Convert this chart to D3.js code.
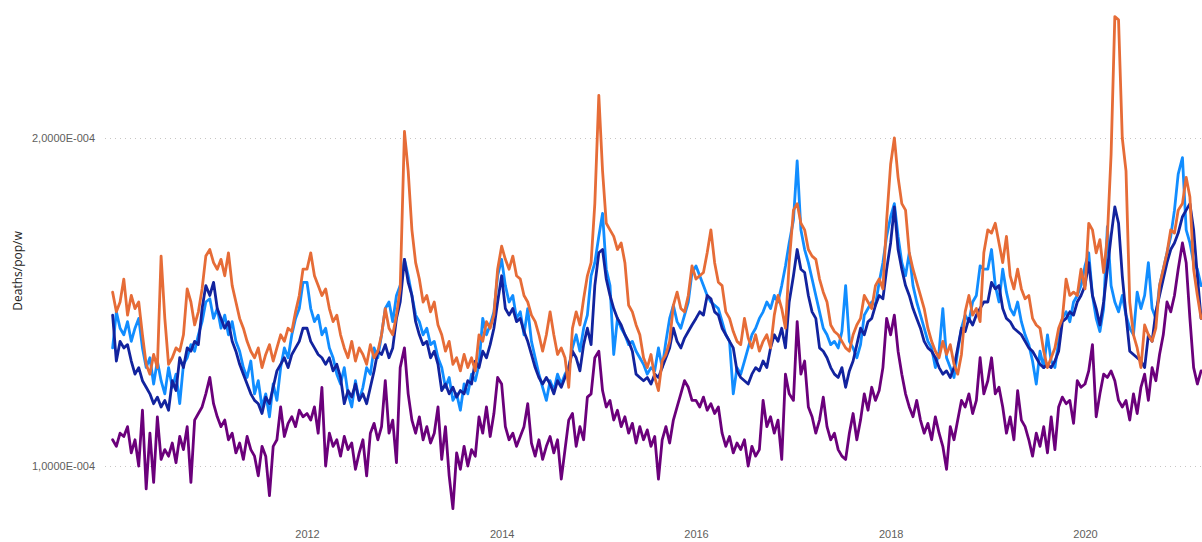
<!DOCTYPE html>
<html>
<head>
<meta charset="utf-8">
<script src="https://cdn.jsdelivr.net/npm/d3@7"></script>
<style>
    body { margin: 0; background: #fff; }
    svg { display: block; font-family: "Segoe UI", "Open Sans", sans-serif; }
</style>
</head>
<body>
<svg width="1202" height="542"></svg>
<script>
// weekly deaths per population, sampled every two weeks, in units of 1E-4
// 26 values per year 2010..2020, then 6 values for early 2021
let years = [2010, 2011, 2012, 2013, 2014, 2015, 2016, 2017, 2018, 2019, 2020, 2021];

let seriesLightBlue = [
    1.36,1.47,1.42,1.40,1.44,1.38,1.42,1.45,1.36,1.30,1.33,1.25,1.32,1.26,1.22,1.30,1.24,1.28,1.19,1.31,1.33,1.37,1.35,1.40,1.44,1.50,
    1.51,1.45,1.48,1.42,1.46,1.40,1.44,1.38,1.35,1.30,1.27,1.32,1.22,1.26,1.18,1.22,1.15,1.25,1.20,1.30,1.36,1.33,1.40,1.45,1.48,1.56,
    1.56,1.48,1.44,1.46,1.40,1.42,1.36,1.33,1.28,1.25,1.30,1.22,1.18,1.26,1.20,1.24,1.30,1.28,1.36,1.33,1.40,1.48,1.50,1.44,1.52,1.55,
    1.63,1.58,1.52,1.46,1.44,1.40,1.42,1.37,1.38,1.33,1.30,1.24,1.27,1.20,1.22,1.17,1.25,1.22,1.28,1.26,1.31,1.45,1.40,1.43,1.47,1.58,
    1.63,1.55,1.50,1.52,1.45,1.47,1.40,1.48,1.38,1.33,1.28,1.24,1.20,1.26,1.23,1.28,1.25,1.28,1.30,1.36,1.40,1.35,1.42,1.46,1.58,1.62,
    1.70,1.77,1.60,1.55,1.34,1.45,1.42,1.40,1.37,1.38,1.35,1.33,1.31,1.28,1.30,1.29,1.36,1.30,1.38,1.45,1.49,1.44,1.42,1.46,1.50,1.59,
    1.61,1.58,1.55,1.52,1.50,1.49,1.48,1.44,1.40,1.38,1.22,1.30,1.28,1.32,1.36,1.40,1.42,1.45,1.47,1.50,1.48,1.52,1.50,1.55,1.61,1.68,
    1.75,1.93,1.72,1.66,1.62,1.57,1.52,1.47,1.42,1.40,1.37,1.38,1.36,1.41,1.55,1.38,1.36,1.33,1.37,1.46,1.48,1.50,1.49,1.56,1.62,1.70,
    1.76,1.80,1.70,1.62,1.58,1.65,1.55,1.50,1.46,1.42,1.38,1.36,1.30,1.35,1.48,1.33,1.30,1.27,1.35,1.42,1.46,1.44,1.50,1.52,1.61,1.60,
    1.60,1.66,1.55,1.50,1.60,1.53,1.48,1.46,1.50,1.44,1.40,1.37,1.32,1.25,1.35,1.30,1.40,1.32,1.30,1.38,1.45,1.47,1.44,1.50,1.52,1.55,
    1.61,1.65,1.52,1.45,1.41,1.48,1.73,1.55,1.50,1.47,1.52,1.46,1.42,1.40,1.53,1.48,1.52,1.62,1.48,1.45,1.55,1.60,1.65,1.70,1.78,1.89,
    1.94,1.72,1.68,1.62,1.60,1.55
];

let seriesDarkBlue = [
    1.46,1.32,1.38,1.36,1.37,1.32,1.28,1.30,1.26,1.24,1.22,1.19,1.21,1.18,1.20,1.17,1.26,1.23,1.33,1.30,1.36,1.35,1.38,1.37,1.48,1.55,
    1.52,1.56,1.48,1.45,1.42,1.44,1.38,1.35,1.31,1.28,1.25,1.22,1.20,1.19,1.16,1.21,1.19,1.24,1.29,1.31,1.33,1.30,1.34,1.36,1.38,1.42,
    1.42,1.38,1.36,1.34,1.33,1.31,1.33,1.29,1.31,1.27,1.19,1.23,1.21,1.25,1.20,1.22,1.19,1.24,1.29,1.35,1.34,1.37,1.33,1.36,1.45,1.50,
    1.63,1.56,1.52,1.44,1.40,1.37,1.38,1.33,1.35,1.31,1.23,1.25,1.22,1.24,1.21,1.23,1.22,1.26,1.25,1.32,1.30,1.35,1.33,1.37,1.42,1.50,
    1.58,1.48,1.46,1.48,1.44,1.45,1.41,1.38,1.34,1.30,1.27,1.25,1.27,1.25,1.22,1.26,1.24,1.27,1.30,1.35,1.33,1.29,1.37,1.42,1.37,1.55,
    1.65,1.66,1.57,1.52,1.48,1.45,1.43,1.40,1.38,1.35,1.28,1.27,1.26,1.27,1.25,1.28,1.27,1.30,1.33,1.36,1.42,1.38,1.36,1.39,1.41,1.43,
    1.45,1.47,1.46,1.52,1.51,1.47,1.46,1.42,1.40,1.38,1.36,1.29,1.27,1.26,1.25,1.28,1.30,1.29,1.32,1.30,1.36,1.40,1.38,1.42,1.36,1.50,
    1.58,1.66,1.60,1.59,1.52,1.47,1.45,1.36,1.35,1.33,1.30,1.28,1.27,1.30,1.24,1.29,1.32,1.37,1.42,1.40,1.44,1.45,1.49,1.52,1.51,1.60,
    1.68,1.79,1.66,1.60,1.55,1.52,1.48,1.45,1.42,1.38,1.36,1.35,1.33,1.30,1.28,1.29,1.27,1.30,1.36,1.42,1.41,1.45,1.43,1.46,1.48,1.50,
    1.50,1.56,1.54,1.55,1.48,1.45,1.44,1.42,1.41,1.40,1.38,1.36,1.35,1.33,1.31,1.30,1.31,1.30,1.32,1.35,1.44,1.45,1.47,1.46,1.50,1.52,
    1.55,1.62,1.52,1.48,1.43,1.50,1.60,1.70,1.79,1.74,1.58,1.46,1.35,1.34,1.33,1.32,1.30,1.40,1.38,1.47,1.52,1.57,1.62,1.66,1.68,1.71,
    1.76,1.78,1.80,1.72,1.58,1.45
];

let seriesOrange = [
    1.53,1.47,1.50,1.57,1.46,1.52,1.48,1.50,1.40,1.31,1.28,1.34,1.30,1.64,1.45,1.31,1.33,1.36,1.35,1.40,1.54,1.50,1.43,1.47,1.54,1.64,
    1.66,1.62,1.60,1.63,1.58,1.65,1.55,1.50,1.45,1.42,1.38,1.35,1.33,1.36,1.30,1.34,1.37,1.32,1.36,1.40,1.38,1.42,1.41,1.47,1.52,1.60,
    1.60,1.65,1.58,1.55,1.52,1.54,1.48,1.44,1.46,1.40,1.36,1.33,1.38,1.32,1.36,1.34,1.31,1.37,1.33,1.35,1.40,1.48,1.42,1.40,1.46,1.54,
    2.02,1.90,1.72,1.62,1.57,1.50,1.52,1.47,1.50,1.43,1.40,1.35,1.38,1.31,1.33,1.29,1.34,1.30,1.33,1.29,1.40,1.38,1.44,1.42,1.46,1.60,
    1.67,1.63,1.60,1.64,1.58,1.57,1.52,1.50,1.46,1.44,1.40,1.35,1.40,1.47,1.40,1.34,1.36,1.33,1.24,1.42,1.47,1.43,1.51,1.58,1.62,1.80,
    2.13,1.90,1.74,1.72,1.70,1.66,1.68,1.62,1.49,1.47,1.43,1.40,1.33,1.30,1.34,1.27,1.23,1.32,1.34,1.38,1.49,1.53,1.48,1.47,1.52,1.61,
    1.57,1.58,1.59,1.65,1.72,1.62,1.56,1.55,1.47,1.45,1.41,1.38,1.37,1.45,1.39,1.36,1.40,1.35,1.38,1.40,1.36,1.46,1.52,1.48,1.42,1.62,
    1.78,1.80,1.74,1.72,1.66,1.64,1.63,1.57,1.53,1.50,1.43,1.41,1.40,1.38,1.36,1.35,1.40,1.43,1.45,1.52,1.50,1.48,1.55,1.57,1.54,1.75,
    1.92,2.00,1.88,1.80,1.78,1.65,1.60,1.56,1.52,1.48,1.42,1.38,1.35,1.33,1.38,1.34,1.37,1.31,1.28,1.34,1.47,1.52,1.46,1.48,1.44,1.65,
    1.72,1.71,1.74,1.68,1.62,1.70,1.58,1.54,1.60,1.54,1.51,1.52,1.45,1.43,1.42,1.35,1.30,1.33,1.36,1.42,1.45,1.57,1.52,1.53,1.52,1.60,
    1.54,1.74,1.72,1.65,1.69,1.59,1.70,1.95,2.37,2.36,2.00,1.90,1.50,1.40,1.36,1.30,1.43,1.40,1.38,1.42,1.55,1.60,1.65,1.72,1.71,1.78,
    1.80,1.88,1.82,1.60,1.52,1.45
];

let seriesPurple = [
    1.08,1.06,1.10,1.09,1.12,1.04,1.08,1.00,1.17,0.93,1.10,0.95,1.15,1.02,1.05,1.03,1.07,1.01,1.09,1.05,1.12,0.95,1.14,1.16,1.18,1.22,
    1.27,1.19,1.15,1.12,1.14,1.08,1.10,1.04,1.07,1.02,1.09,1.05,1.03,0.97,1.06,1.03,0.91,1.06,1.08,1.18,1.09,1.13,1.15,1.12,1.17,1.15,
    1.16,1.14,1.18,1.10,1.24,1.00,1.10,1.06,1.08,1.03,1.09,1.05,1.07,0.99,1.04,1.08,0.97,1.10,1.13,1.08,1.12,1.26,1.10,1.14,1.01,1.30,
    1.36,1.22,1.14,1.10,1.15,1.08,1.12,1.07,1.10,1.18,1.02,1.12,0.97,0.87,1.04,0.99,1.06,1.00,1.05,1.03,1.15,1.10,1.18,1.09,1.16,1.27,
    1.25,1.12,1.08,1.10,1.06,1.09,1.12,1.19,1.07,1.03,1.08,1.02,1.06,1.09,1.04,1.08,0.96,1.05,1.14,1.16,1.06,1.12,1.08,1.21,1.22,1.33,
    1.35,1.23,1.18,1.20,1.14,1.17,1.12,1.15,1.10,1.13,1.07,1.12,1.08,1.11,1.06,1.09,0.96,1.08,1.12,1.07,1.14,1.18,1.22,1.26,1.24,1.20,
    1.20,1.18,1.21,1.17,1.19,1.16,1.18,1.10,1.06,1.09,1.04,1.07,1.05,1.08,1.00,1.06,1.03,1.05,1.20,1.12,1.15,1.10,1.14,1.02,1.28,1.22,
    1.20,1.44,1.28,1.32,1.18,1.15,1.10,1.14,1.21,1.12,1.08,1.10,1.05,1.03,1.02,1.10,1.16,1.08,1.14,1.22,1.17,1.24,1.20,1.23,1.30,1.45,
    1.40,1.46,1.35,1.28,1.22,1.18,1.15,1.20,1.14,1.10,1.13,1.08,1.15,1.10,1.06,0.99,1.12,1.08,1.14,1.20,1.18,1.22,1.16,1.20,1.33,1.22,
    1.26,1.33,1.22,1.24,1.18,1.10,1.15,1.08,1.23,1.14,1.12,1.08,1.03,1.10,1.06,1.12,1.04,1.15,1.05,1.18,1.21,1.19,1.20,1.13,1.26,1.24,
    1.25,1.29,1.37,1.15,1.22,1.28,1.27,1.29,1.26,1.20,1.18,1.20,1.14,1.22,1.16,1.24,1.28,1.20,1.30,1.26,1.34,1.40,1.50,1.47,1.52,1.60,
    1.68,1.62,1.45,1.30,1.25,1.29
];

let yTickValues = [1, 2];
let xTickYears = [2012, 2014, 2016, 2018, 2020];

(function () {
    'use strict';

    let svg = d3.select("svg");
    let width = +svg.attr("width"),
        height = +svg.attr("height");

    // sample k -> date: two-week steps inside each calendar year
    let dateOf = function (k) {
        let yr = years[Math.floor(k / 26)];
        return new Date(yr, 0, 1 + 14 * (k % 26));
    };

    let x = d3.scaleTime()
        .domain([new Date(2012, 0, 1), new Date(2020, 0, 1)])
        .range([307, 1085]);

    let y = d3.scaleLinear()
        .domain([1, 2])
        .range([466, 138]);

    let series = [
        {id: "lightblue", color: "#118DFF", values: seriesLightBlue},
        {id: "darkblue", color: "#12239E", values: seriesDarkBlue},
        {id: "orange", color: "#E66C37", values: seriesOrange},
        {id: "purple", color: "#6B007B", values: seriesPurple}
    ];

    let fmt = function (v) {
        return d3.format(".4f")(v).replace(".", ",") + "E-004";
    };

    // y gridlines + labels
    let yAxis = svg.append("g")
        .attr("class", "axis axis--y")
        .attr("transform", "translate(105,0)")
        .call(d3.axisLeft(y).tickValues(yTickValues).tickFormat(fmt).tickSize(0).tickPadding(10));
    yAxis.select(".domain").remove();
    yAxis.selectAll(".tick line")
        .attr("x2", width - 105)
        .attr("stroke", "#C8C6C4")
        .attr("stroke-width", 1)
        .attr("stroke-dasharray", "1,4");
    yAxis.selectAll(".tick text")
        .attr("fill", "#605E5C")
        .style("font-size", "11px");

    svg.append("text")
        .attr("transform", "translate(22," + 271 + ") rotate(-90)")
        .attr("text-anchor", "middle")
        .attr("fill", "#252423")
        .style("font-size", "12px")
        .text("Deaths/pop/w");

    // x labels
    let xAxis = svg.append("g")
        .attr("class", "axis axis--x")
        .attr("transform", "translate(0,522)")
        .call(d3.axisBottom(x)
            .tickValues(xTickYears.map(function (yr) { return new Date(yr, 0, 1); }))
            .tickFormat(d3.timeFormat("%Y"))
            .tickSize(0)
            .tickPadding(8));
    xAxis.select(".domain").remove();
    xAxis.selectAll(".tick text")
        .attr("fill", "#605E5C")
        .style("font-size", "11px");

    let line = d3.line()
        .x(function (d, k) { return x(dateOf(k)); })
        .y(function (d) { return y(d); });

    svg.append("g")
        .selectAll("path")
        .data(series)
        .enter().append("path")
        .attr("fill", "none")
        .attr("stroke", function (d) { return d.color; })
        .attr("stroke-width", 2.8)
        .attr("stroke-linejoin", "round")
        .attr("stroke-linecap", "round")
        .attr("d", function (d) { return line(d.values); });
}());
</script>
</body>
</html>
